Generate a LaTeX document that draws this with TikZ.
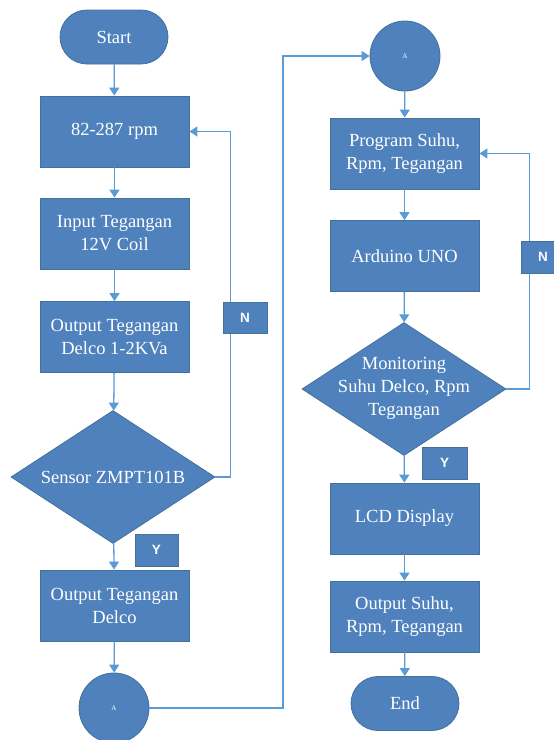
\documentclass[tikz,border=0pt]{standalone}
\usepackage{fontspec}
\setmainfont{Liberation Serif}
\setsansfont{Liberation Sans}
\usetikzlibrary{shapes.geometric,arrows.meta}
\definecolor{boxfill}{HTML}{4F81BD}
\definecolor{boxline}{HTML}{41719C}
\definecolor{arrcol}{HTML}{5B9BD5}
\begin{document}
\begin{tikzpicture}[x=1pt,y=-1pt,
  base/.style={fill=boxfill,draw=boxline,line width=0.8pt,text=white,inner sep=0pt,align=center,
    font=\fontsize{18.5}{23}\selectfont},
  procbox/.style={base,rectangle,minimum width=149pt,minimum height=71pt},
  termbox/.style={base,rectangle,rounded corners=27pt,minimum width=108pt,minimum height=54pt},
  decbox/.style={base,diamond,minimum width=204pt,minimum height=133pt},
  conn/.style={base,circle,minimum size=70pt,font=\fontsize{7}{8}\selectfont},
  lbl/.style={base,rectangle,font=\sffamily\bfseries\fontsize{13.5}{15}\selectfont},
  dtext/.style={text=white,align=center,inner sep=0pt,font=\fontsize{18.5}{23}\selectfont},
  arr/.style={draw=arrcol,line width=1.3pt,-{Triangle[width=10pt,length=8pt]}},
  ln/.style={draw=arrcol,line width=1.3pt}
]
\useasboundingbox (0,0) rectangle (554,740);
% left column
\node[termbox] (start) at (114,37) {Start};
\node[procbox] (b1) at (114.5,131.5) {82-287 rpm};
\node[procbox] (b2) at (114.5,233.5) {Input Tegangan\\12V Coil};
\node[procbox] (b3) at (114.5,337) {Output Tegangan\\Delco 1-2KVa};
\node[decbox] (d1) at (113,477) {};
\node[dtext] at (d1) {Sensor ZMPT101B};
\node[procbox] (b4) at (114.5,605.5) {Output Tegangan\\Delco};
\node[conn] (ca1) at (114,708) {A};
% right column
\node[conn] (ca2) at (405,56) {A};
\node[procbox] (p1) at (404.5,153.5) {Program Suhu,\\Rpm, Tegangan};
\node[procbox] (p2) at (404.5,256) {Arduino UNO};
\node[decbox] (d2) at (404,389) {};
\node[dtext] at (404,388) {Monitoring\\Suhu Delco, Rpm\\Tegangan};
\node[procbox] (p3) at (404.5,518.5) {LCD Display};
\node[procbox] (p4) at (404.5,616.5) {Output Suhu,\\Rpm, Tegangan};
\node[termbox] (end) at (405,703.5) {End};
\coordinate (jx) at (283,0);
% connectors left
\draw[arr] (start) -- (b1);
\draw[arr] (b1) -- (b2);
\draw[arr] (b2) -- (b3);
\draw[arr] (b3) -- (d1);
\draw[arr] (d1) -- (b4);
\draw[arr] (b4) -- (ca1);
\draw[arr] (d1.east) -- ++(15,0) |- (b1.east);
\draw[arr] (ca1.east) -- (ca1.east -| jx) |- (ca2.west);
% connectors right
\draw[arr] (ca2) -- (p1);
\draw[arr] (p1) -- (p2);
\draw[arr] (p2) -- (d2);
\draw[arr] (d2) -- (p3);
\draw[arr] (p3) -- (p4);
\draw[arr] (p4) -- (end);
\draw[arr] (d2.east) -- ++(23,0) |- (p1.east);
% labels
\node[lbl,minimum width=44pt,minimum height=31pt] (n1) at (245,317.5) {N};
\node[lbl,minimum width=43pt,minimum height=32pt] (y1) at (156.5,550) {Y};
\node[lbl,minimum width=44pt,minimum height=32pt] (n2) at (543,257) {N};
\node[lbl,minimum width=45pt,minimum height=32pt] (y2) at (444.5,463) {Y};
\end{tikzpicture}
\end{document}
